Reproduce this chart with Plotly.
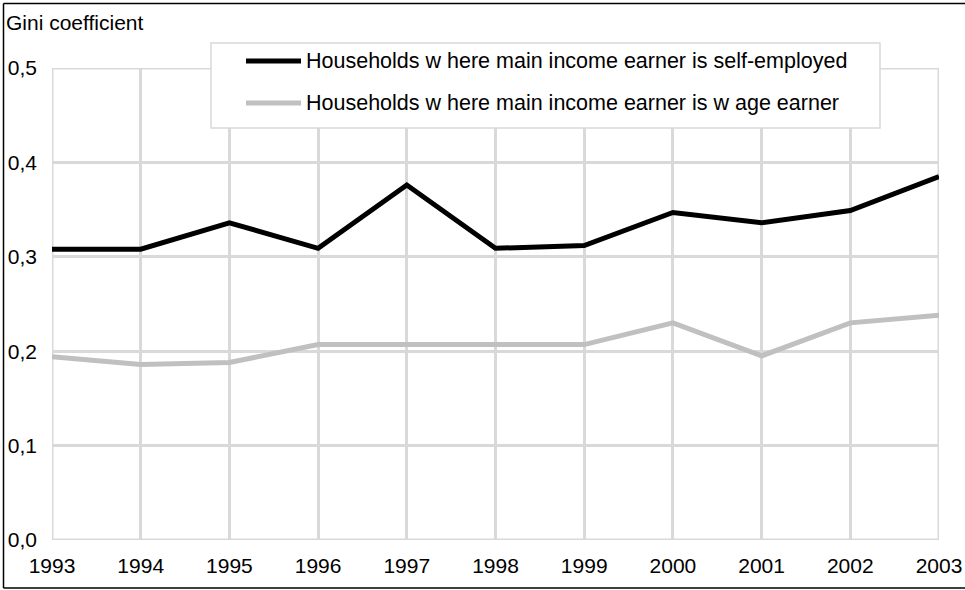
import plotly.graph_objects as go

years = [1993, 1994, 1995, 1996, 1997, 1998, 1999, 2000, 2001, 2002, 2003]
self_employed = [0.308, 0.308, 0.336, 0.309, 0.376, 0.309, 0.312, 0.347, 0.336, 0.349, 0.385]
wage_earner = [0.194, 0.186, 0.188, 0.207, 0.207, 0.207, 0.207, 0.230, 0.195, 0.230, 0.238]
series_names = ["Households w here main income earner is self-employed",
                "Households w here main income earner is w age earner"]
y_ticks = [0.0, 0.1, 0.2, 0.3, 0.4, 0.5]
y_title = "Gini coefficient"

W, H = 965, 590
ML, MR, MT, MB = 52, 26, 68, 50
PW, PH = W - ML - MR, H - MT - MB


def px(x):
    return (x - ML) / PW


def py(y):
    return (H - MB - y) / PH


FONT = "Liberation Sans, Arial, sans-serif"
BLACK = "#000000"
GREY = "#c0c0c0"
GRID = "#d9d9d9"
FS = 21

fig = go.Figure()
fig.add_trace(go.Scatter(x=years, y=self_employed, mode="lines", name=series_names[0],
                         line=dict(color=BLACK, width=5), showlegend=False))
fig.add_trace(go.Scatter(x=years, y=wage_earner, mode="lines", name=series_names[1],
                         line=dict(color=GREY, width=5), showlegend=False))

shapes = []
# edge grid lines (plotly clips grid lines lying on the plot edges)
x_lo, x_hi = years[0], years[-1]
y_lo, y_hi = y_ticks[0], y_ticks[-1]
for xv in (x_lo, x_hi):
    shapes.append(dict(type="line", xref="x", yref="y", x0=xv, x1=xv, y0=y_lo, y1=y_hi,
                       line=dict(color=GRID, width=3), layer="below"))
for yv in (y_lo, y_hi):
    shapes.append(dict(type="line", xref="x", yref="y", x0=x_lo, x1=x_hi, y0=yv, y1=yv,
                       line=dict(color=GRID, width=3), layer="below"))
# outer border: left, top and bottom edges only
border = dict(color="#000000", width=1.5)
shapes.append(dict(type="line", xref="paper", yref="paper",
                   x0=px(3.5), x1=px(3.5), y0=py(588), y1=py(3.5), line=border, layer="above"))
shapes.append(dict(type="line", xref="paper", yref="paper",
                   x0=px(3.5), x1=px(W), y0=py(3.5), y1=py(3.5), line=border, layer="above"))
shapes.append(dict(type="line", xref="paper", yref="paper",
                   x0=px(3.5), x1=px(W), y0=py(588), y1=py(588), line=border, layer="above"))
# legend box
shapes.append(dict(type="rect", xref="paper", yref="paper",
                   x0=px(211), x1=px(880), y0=py(128), y1=py(43),
                   line=dict(color=GRID, width=1.5), fillcolor="white", layer="above"))
annotations = []
for i, (name, col) in enumerate(zip(series_names, [BLACK, GREY])):
    yy = 61 + 42 * i
    shapes.append(dict(type="line", xref="paper", yref="paper",
                       x0=px(246), x1=px(301), y0=py(yy), y1=py(yy),
                       line=dict(color=col, width=5), layer="above"))
    annotations.append(dict(text=name, xref="paper", yref="paper", x=px(304), y=py(yy),
                            xanchor="left", yanchor="middle", showarrow=False,
                            font=dict(family=FONT, size=FS + 0.5, color="#000000")))

annotations.append(dict(text=y_title, xref="paper", yref="paper", x=px(4), y=py(22),
                        xanchor="left", yanchor="middle", showarrow=False,
                        font=dict(family=FONT, size=FS, color="#000000")))

fig.update_layout(
    width=W, height=H, autosize=False,
    margin=dict(l=ML, r=MR, t=MT, b=MB, pad=0, autoexpand=False),
    paper_bgcolor="white", plot_bgcolor="white",
    separators=",.",
    font=dict(family=FONT, size=FS, color="#000000"),
    shapes=shapes, annotations=annotations,
    showlegend=False,
)
fig.update_xaxes(range=[x_lo, x_hi], tickmode="array", tickvals=years,
                 ticktext=[str(y) for y in years], automargin=False,
                 showgrid=True, gridcolor=GRID, gridwidth=3,
                 showline=False, zeroline=False, ticks="", ticklabelstandoff=11,
                 tickfont=dict(family=FONT, size=FS, color="#000000"))
fig.update_yaxes(range=[y_lo, y_hi], tickmode="array", tickvals=y_ticks,
                 tickformat=".1f", automargin=False,
                 showgrid=True, gridcolor=GRID, gridwidth=3,
                 showline=False, zeroline=False, ticks="", ticklabelstandoff=14,
                 tickfont=dict(family=FONT, size=FS, color="#000000"))

fig.write_html("out.html",
               config={"displayModeBar": False},
               post_script="document.documentElement.style.margin='0';"
                           "document.body.style.margin='0';"
                           "document.body.style.overflow='hidden';")
